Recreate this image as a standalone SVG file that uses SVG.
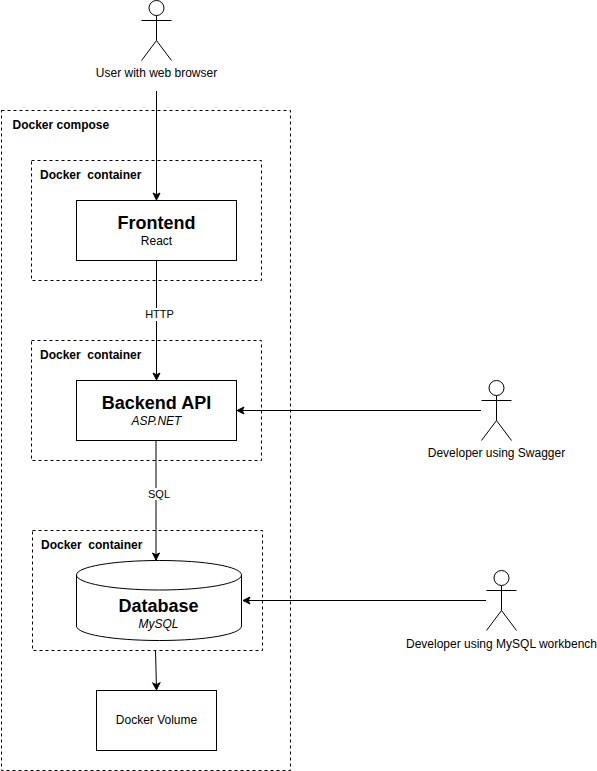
<svg xmlns="http://www.w3.org/2000/svg" width="597" height="771" viewBox="0 0 597 771">
<style>
text{font-family:"Liberation Sans",Arial,sans-serif;fill:#000;text-anchor:middle}
.s{font-size:12px}
.l{font-size:11px}
.g{font-size:12px;font-weight:bold;text-anchor:start;white-space:pre}
.t{font-size:18px;font-weight:bold}
.i{font-style:italic}
.d{fill:none;stroke:#000;stroke-dasharray:3 3}
.b{fill:#fff;stroke:#000}
.a{fill:none;stroke:#000}
.c{fill:none;stroke:#000;marker-end:url(#arrow)}
</style>
<defs>
<marker id="arrow" markerUnits="userSpaceOnUse" markerWidth="10" markerHeight="10" refX="7.500" refY="4" orient="auto" overflow="visible"><path d="M0.500 0.500L7.500 4L0.500 7.500L2.250 4Z" fill="#000" stroke="#000" stroke-width="1"/></marker>
<g id="actor"><circle cx="15" cy="7.500" r="7.500" class="b"/><path class="a" d="M15 15V40M0 20H30M0 60L15 40L30 60"/></g>
</defs>
<rect width="597" height="771" fill="#fff"/>
<g id="compose"><rect class="d" x="1.500" y="110.500" width="289" height="660"/><text class="g" x="12.500" y="129">Docker compose</text></g>
<g id="container-frontend"><rect class="d" x="31.500" y="160.500" width="230" height="120"/><text class="g" x="40" y="179">Docker  container</text></g>
<g id="container-backend"><rect class="d" x="31.500" y="340.500" width="230" height="120"/><text class="g" x="40" y="359">Docker  container</text></g>
<g id="container-database"><rect class="d" x="32.500" y="530.500" width="230" height="120"/><text class="g" x="41" y="549">Docker  container</text></g>
<g id="connectors">
<path class="c" d="M156.500 91V200"/>
<path class="a" d="M156.500 260V308"/>
<path class="c" d="M156.500 321V380"/>
<path class="c" d="M481 410.500H237"/>
<path class="a" d="M156 440V488"/>
<path class="c" d="M156 500V560"/>
<path class="c" d="M486 600.500H243"/>
<path class="c" d="M155.500 650L156.500 690"/>
<text class="l" x="159.500" y="318">HTTP</text>
<text class="l" x="159" y="498">SQL</text>
</g>
<g id="user"><use href="#actor" x="141.500" y="0.500"/><text class="s" x="156.500" y="77">User with web browser</text></g>
<g id="frontend"><rect class="b" x="76.500" y="200.500" width="160" height="60"/><text class="t" x="156.500" y="229">Frontend</text><text class="s" x="156.500" y="245">React</text></g>
<g id="backend"><rect class="b" x="76.500" y="380.500" width="160" height="60"/><text class="t" x="156.500" y="409">Backend API</text><text class="s i" x="156.500" y="425">ASP.NET</text></g>
<g id="developer-swagger"><use href="#actor" x="481.500" y="380.500"/><text class="s" x="496.500" y="457">Developer using Swagger</text></g>
<g id="database"><path class="b" d="M76.500 575C76.500 566.700 113.500 560.500 159.500 560.500S241.500 566.700 241.500 575V626C241.500 634.300 205.500 640.500 159.500 640.500S76.500 634.300 76.500 626Z"/><path class="a" d="M76.500 575C76.500 583.300 113.500 590 159.500 590S241.500 583.300 241.500 575"/><text class="t" x="158.500" y="612">Database</text><text class="s i" x="158.500" y="628">MySQL</text></g>
<g id="developer-mysql"><use href="#actor" x="486.500" y="570.500"/><text class="s" x="501.500" y="648">Developer using MySQL workbench</text></g>
<g id="volume"><rect class="b" x="96.500" y="690.500" width="120" height="60"/><text class="s" x="156.500" y="724">Docker Volume</text></g>
</svg>
